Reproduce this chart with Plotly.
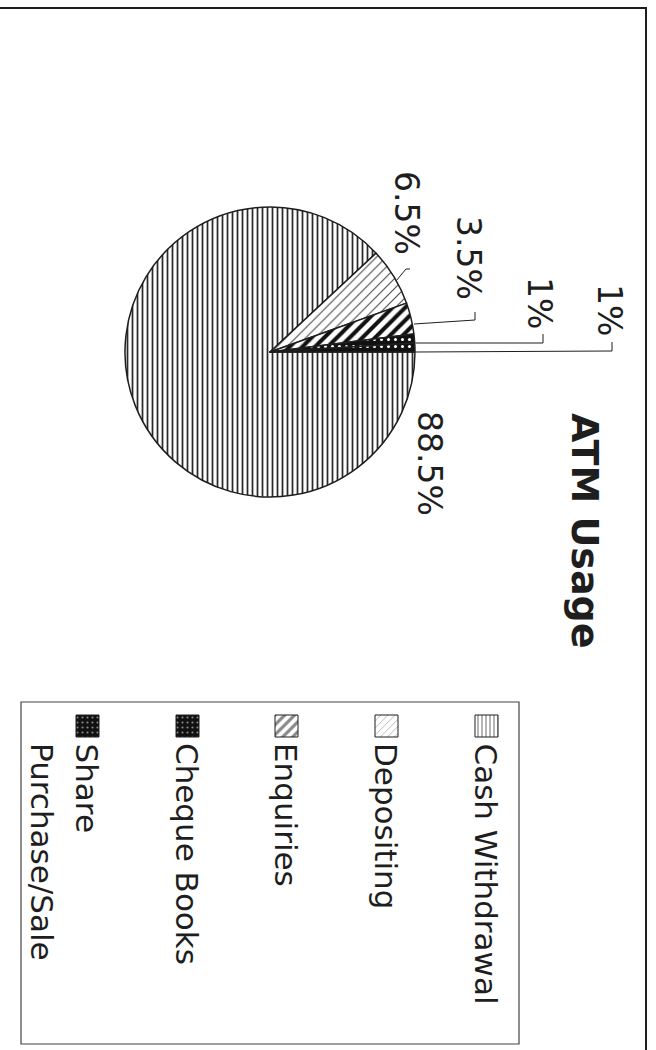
import plotly.graph_objects as go

# ---------------- data ----------------
categories = ["Cash Withdrawal", "Depositing", "Enquiries", "Cheque Books", "Share Purchase/Sale"]
shares = [88.5, 6.5, 3.5, 1, 1]
legend_lines = [["Cash Withdrawal"], ["Depositing"], ["Enquiries"], ["Cheque Books"], ["Share", "Purchase/Sale"]]
title_text = "ATM Usage"

# ---------------- style ----------------
W, H = 656, 1050
FONT = "DejaVu Sans, Liberation Sans, Arial, sans-serif"
INK = "#1e1e1e"

pat_shape = ["|", "/", "/", ".", "."]
pat_fg = ["#2a2a2a", "#444444", "#111111", "#ffffff", "#ffffff"]
pat_bg = ["#ffffff", "#ffffff", "#ffffff", "#111111", "#111111"]
pat_size = [5, 7, 9, 7, 7]
pat_sol = [0.35, 0.15, 0.45, 0.15, 0.15]

cx, cy, r = 270, 352, 145

fig = go.Figure()

fig.add_trace(go.Pie(
    labels=categories, values=shares, sort=False, direction="clockwise", rotation=90,
    textinfo="none", hoverinfo="label+percent", showlegend=False,
    marker=dict(colors=pat_bg, line=dict(color=INK, width=1.5),
                pattern=dict(shape=pat_shape, fgcolor=pat_fg, bgcolor=pat_bg,
                             size=pat_size, solidity=pat_sol, fillmode="replace")),
    domain=dict(x=[(cx - r) / W, (cx + r) / W], y=[1 - (cy + r) / H, 1 - (cy - r) / H]),
))

# ---------------- legend (rotated, drawn by hand) ----------------
leg_base = [475, 375, 275, 176, 76]
sw = 23
for i, name in enumerate(categories):
    x0 = leg_base[i]
    fig.add_trace(go.Scatter(
        x=[x0, x0 + sw, x0 + sw, x0, x0], y=[715, 715, 715 + sw - 1, 715 + sw - 1, 715],
        mode="lines", fill="toself", line=dict(color=INK, width=1),
        fillcolor=pat_bg[i],
        fillpattern=dict(shape=pat_shape[i], fgcolor=pat_fg[i], bgcolor=pat_bg[i],
                         size=max(4, pat_size[i] - 2), solidity=pat_sol[i]),
        showlegend=False, hoverinfo="skip"))

annotations = []
LFS = 31
for i, lines in enumerate(legend_lines):
    for j, line in enumerate(lines):
        annotations.append(dict(
            x=leg_base[i] + 11 - 45 * j, y=741, xref="x", yref="y", text=line,
            textangle=90, showarrow=False, xanchor="center", yanchor="top",
            font=dict(family=FONT, size=LFS, color=INK)))

# ---------------- title ----------------
annotations.append(dict(
    x=585, y=411, xref="x", yref="y", text="<b>" + title_text + "</b>", textangle=90,
    showarrow=False, xanchor="center", yanchor="top",
    font=dict(family=FONT, size=38, color=INK)))

# ---------------- percentage labels ----------------
pct_text = [f"{v:g}%" for v in shares]
lab_pos = [(430, 463), (407, 213), (469, 258), (540, 303), (610, 310)]
for i, t in enumerate(pct_text):
    annotations.append(dict(
        x=lab_pos[i][0], y=lab_pos[i][1], xref="x", yref="y", text=t, textangle=90,
        showarrow=False, xanchor="center", yanchor="middle",
        font=dict(family=FONT, size=33, color=INK)))

# ---------------- leader lines + frames ----------------
shapes = [
    dict(type="path", path="M 396 281 L 406 269 L 410 269", xref="x", yref="y", line=dict(color=INK, width=1)),
    dict(type="path", path="M 414 324 L 475 320 L 475 312", xref="x", yref="y", line=dict(color=INK, width=1)),
    dict(type="path", path="M 416 343 L 543 343 L 543 334", xref="x", yref="y", line=dict(color=INK, width=1)),
    dict(type="path", path="M 416 352 L 612 351 L 612 342", xref="x", yref="y", line=dict(color=INK, width=1)),
    dict(type="rect", x0=21, x1=519, y0=702, y1=1044, xref="x", yref="y", line=dict(color="#444", width=1.2)),
    dict(type="rect", x0=-10, x1=646, y0=8, y1=1070, xref="x", yref="y", line=dict(color=INK, width=2)),
]

fig.update_layout(
    width=W, height=H, autosize=False,
    margin=dict(l=0, r=0, t=0, b=0),
    paper_bgcolor="white", plot_bgcolor="rgba(0,0,0,0)",
    xaxis=dict(range=[0, W], visible=False, domain=[0, 1], fixedrange=True),
    yaxis=dict(range=[H, 0], visible=False, domain=[0, 1], fixedrange=True),
    annotations=annotations, shapes=shapes, showlegend=False,
)

fig.write_html("out.html")
